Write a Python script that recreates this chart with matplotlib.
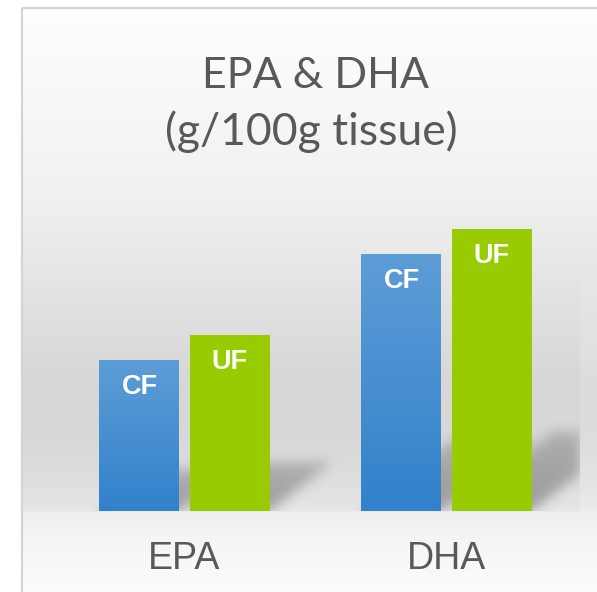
import matplotlib.pyplot as plt
import numpy as np
from matplotlib.colors import LinearSegmentedColormap

categories = ["EPA", "DHA"]
series = ["CF", "UF"]
cf_values = [0.30, 0.51]
uf_values = [0.35, 0.56]

W, H = 597, 592
fig = plt.figure(figsize=(W / 100, H / 100), dpi=100)

# grey panel behind the chart, light at top, darker behind the bars
bg = fig.add_axes([0, 0, 1, 1])
bg.set_axis_off()
rows = np.arange(H)
stops_y = [9, 100, 200, 300, 380, 430, 480, 510, 512, 540, 591]
stops_g = [254, 248, 240, 226, 215, 215, 222, 230, 238, 245, 252]
prof = np.interp(rows, stops_y, stops_g)
img = np.tile(prof[:, None], (1, W))
img[:, 580:] += np.interp(rows, [250, 350, 511, 512], [0, 5, 5, 0])[:, None]
img[:9, :] = 255
img[:, :22] = 255
img = np.repeat(img[:, :, None] / 255, 3, axis=2)
bg.imshow(img, extent=(0, W, H, 0), aspect="auto", interpolation="bilinear")
bg.plot([22, 22], [8, H], color="#d4d4d4", lw=1.6, solid_capstyle="butt")
bg.plot([22, W], [8, 8], color="#d4d4d4", lw=1.6, solid_capstyle="butt")
bg.set_xlim(0, W)
bg.set_ylim(H, 0)

# plot area
left_px, right_px, base_px, top_px = 24, 580, 511, 180
ax = fig.add_axes([left_px / W, (H - base_px) / H,
                   (right_px - left_px) / W, (base_px - top_px) / H])
ax.patch.set_alpha(0)
for s in ax.spines.values():
    s.set_visible(False)

xlim = (-0.6126, 1.5095)
ylim = (0, 0.657)
x = np.arange(len(categories))
width = 0.305
off = 0.172

# soft cast shadows behind each bar
AX_W, AX_H = right_px - left_px, base_px - top_px
u = np.arange(AX_W) + 0.5
v = (np.arange(AX_H) + 0.5)[::-1]
U, V = np.meshgrid(u, v)
sx = AX_W / (xlim[1] - xlim[0])
sy = AX_H / (ylim[1] - ylim[0])
mask = np.zeros_like(U)
for xs, vals in [(x - off, cf_values), (x + off, uf_values)]:
    for xc, val in zip(xs, vals):
        x0p = (xc - width / 2 - xlim[0]) * sx
        x1p = (xc + width / 2 - xlim[0]) * sx
        hp = val * sy
        top = 0.28 * hp
        shift = V * (0.36 / 0.28)
        inside = (V <= top) & (U >= x0p + shift) & (U <= x1p + shift)
        fade = 1 - 0.4 * V / top
        mask = np.maximum(mask, inside * fade)

k = np.exp(-0.5 * (np.arange(-18, 19) / 6.0) ** 2)
k /= k.sum()
mask = np.apply_along_axis(lambda r: np.convolve(r, k, mode="same"), 1, mask)
mask = np.apply_along_axis(lambda c: np.convolve(c, k, mode="same"), 0, mask)
shadow = np.zeros((AX_H, AX_W, 4))
shadow[..., 3] = 0.32 * mask
ax.imshow(shadow, extent=(xlim[0], xlim[1], ylim[0], ylim[1]),
          aspect="auto", zorder=1, interpolation="bilinear")

# bars
cf_bars = ax.bar(x - off, cf_values, width, color="none", zorder=2)
uf_bars = ax.bar(x + off, uf_values, width, color="#99cc00", zorder=2)

blue = LinearSegmentedColormap.from_list("cfblue", ["#3281cb", "#5d9dd6"])
grad = np.linspace(0, 1, 200)[:, None]
for b in cf_bars:
    im = ax.imshow(grad, cmap=blue, origin="lower", aspect="auto", zorder=2,
                   extent=(b.get_x(), b.get_x() + b.get_width(), 0, b.get_height()))
    im.set_clip_path(b)

for bars, name in [(cf_bars, "CF"), (uf_bars, "UF")]:
    for b in bars:
        ax.annotate(name, (b.get_x() + b.get_width() / 2, b.get_height()),
                    xytext=(0, -19.5), textcoords="offset points",
                    ha="center", va="center", color="white", fontsize=19.5,
                    fontweight="bold", family="Liberation Sans", zorder=3)

ax.set_xlim(*xlim)
ax.set_ylim(*ylim)
ax.set_yticks([])
ax.set_xticks(x)
ax.set_xticklabels(categories, fontsize=27, color="#595959", family="Liberation Sans")
ax.tick_params(axis="x", length=0, pad=21.5)

# two line title
fig.text(316 / W, 1 - 88 / H, "EPA & DHA", ha="center", va="baseline",
         fontsize=31, color="#595959", family="Lato")
fig.text(311 / W, 1 - 145 / H, "(g/100g tissue)", ha="center", va="baseline",
         fontsize=32, color="#595959", family="Lato")

fig.savefig("out.png", dpi=100)
